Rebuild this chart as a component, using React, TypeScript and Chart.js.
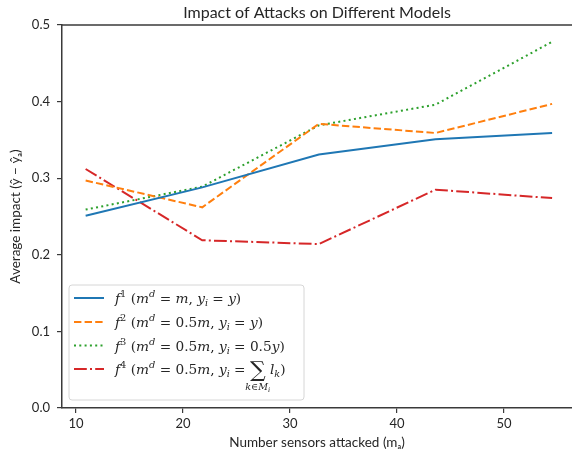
import React, { useEffect, useRef } from "react";
import { Chart, registerables } from "chart.js";

Chart.register(...registerables);

// ---- data ----
const xValues = [10.9, 21.8, 32.7, 43.6, 54.5];
const f1Values = [0.251, 0.288, 0.331, 0.351, 0.359];
const f2Values = [0.297, 0.262, 0.371, 0.359, 0.397];
const f3Values = [0.259, 0.289, 0.369, 0.396, 0.478];
const f4Values = [0.312, 0.219, 0.214, 0.285, 0.274];
const xTickValues = [10, 20, 30, 40, 50];
const yTickValues = [0, 0.1, 0.2, 0.3, 0.4, 0.5];
const seriesNames = ["f1", "f2", "f3", "f4"];

const titleText = "Impact of Attacks on Different Models";
const xTitle = "Number sensors attacked (mₐ)";
const yTitle = "Average impact (ŷ − ŷₐ)";

const COLORS = ["#1f77b4", "#ff7f0e", "#2ca02c", "#d62728"];
const DASHES: number[][] = [[], [7.4, 3.2], [2, 3.3], [12.8, 3.2, 2, 3.2]];
const SANS = '"Lato", "DejaVu Sans", sans-serif';
const SERIF = '"DejaVu Serif", "Liberation Serif", serif';
const TEXT = "#262626";
const SPINE = "#3a3a3a";

type Seg = { t: string; it?: boolean; pos?: "sup" | "sub"; size?: number; dy?: number; under?: Seg[] };

function drawRich(ctx: CanvasRenderingContext2D, x: number, y: number, segs: Seg[], base: number) {
  let cx = x;
  for (const s of segs) {
    let size = s.size ?? base;
    let dy = s.dy ?? 0;
    if (s.pos === "sup") { size = base * 0.72; dy -= base * 0.42; }
    if (s.pos === "sub") { size = base * 0.7; dy += base * 0.22; }
    ctx.font = `${s.it ? "italic " : ""}${size}px ${SERIF}`;
    const w = ctx.measureText(s.t).width;
    ctx.fillText(s.t, cx, y + dy);
    if (s.under) {
      let uw = 0;
      for (const u of s.under) {
        const us = u.pos === "sub" ? base * 0.5 : base * 0.7;
        ctx.font = `${u.it ? "italic " : ""}${us}px ${SERIF}`;
        uw += ctx.measureText(u.t).width;
      }
      let ux = cx + w / 2 - uw / 2;
      for (const u of s.under) {
        const us = u.pos === "sub" ? base * 0.5 : base * 0.7;
        const udy = u.pos === "sub" ? 2 : 0;
        ctx.font = `${u.it ? "italic " : ""}${us}px ${SERIF}`;
        ctx.fillText(u.t, ux, y + base * 1.2 + udy);
        ux += ctx.measureText(u.t).width;
      }
    }
    cx += w;
  }
}

const legendRows: Seg[][] = [
  [{ t: "f", it: true }, { t: "1", pos: "sup" }, { t: " (" }, { t: "m", it: true }, { t: "d", it: true, pos: "sup" }, { t: " = " }, { t: "m", it: true }, { t: ", " }, { t: "y", it: true }, { t: "i", it: true, pos: "sub" }, { t: " = " }, { t: "y", it: true }, { t: ")" }],
  [{ t: "f", it: true }, { t: "2", pos: "sup" }, { t: " (" }, { t: "m", it: true }, { t: "d", it: true, pos: "sup" }, { t: " = 0.5" }, { t: "m", it: true }, { t: ", " }, { t: "y", it: true }, { t: "i", it: true, pos: "sub" }, { t: " = " }, { t: "y", it: true }, { t: ")" }],
  [{ t: "f", it: true }, { t: "3", pos: "sup" }, { t: " (" }, { t: "m", it: true }, { t: "d", it: true, pos: "sup" }, { t: " = 0.5" }, { t: "m", it: true }, { t: ", " }, { t: "y", it: true }, { t: "i", it: true, pos: "sub" }, { t: " = 0.5" }, { t: "y", it: true }, { t: ")" }],
  [{ t: "f", it: true }, { t: "4", pos: "sup" }, { t: " (" }, { t: "m", it: true }, { t: "d", it: true, pos: "sup" }, { t: " = 0.5" }, { t: "m", it: true }, { t: ", " }, { t: "y", it: true }, { t: "i", it: true, pos: "sub" }, { t: " = " },
   { t: "∑", size: 22, dy: 3, under: [{ t: "k", it: true }, { t: "∈" }, { t: "M", it: true }, { t: "i", it: true, pos: "sub" }] },
   { t: " " }, { t: "l", it: true }, { t: "k", it: true, pos: "sub" }, { t: ")" }],
];

const decoPlugin = {
  id: "deco",
  afterDraw(chart: any) {
    const ctx: CanvasRenderingContext2D = chart.ctx;
    const a = chart.chartArea;
    ctx.save();
    ctx.strokeStyle = SPINE;
    ctx.lineWidth = 1.5;
    ctx.beginPath();
    ctx.moveTo(a.left, a.top);
    ctx.lineTo(a.right + 2, a.top);
    ctx.stroke();

    const bx = 69, by = 285, bw = 235, bh = 115, r = 3;
    ctx.beginPath();
    ctx.moveTo(bx + r, by);
    ctx.arcTo(bx + bw, by, bx + bw, by + bh, r);
    ctx.arcTo(bx + bw, by + bh, bx, by + bh, r);
    ctx.arcTo(bx, by + bh, bx, by, r);
    ctx.arcTo(bx, by, bx + bw, by, r);
    ctx.closePath();
    ctx.fillStyle = "rgba(255,255,255,0.8)";
    ctx.fill();
    ctx.strokeStyle = "#d6d6d6";
    ctx.lineWidth = 1;
    ctx.stroke();

    const rowY = [298, 322, 345.5, 369];
    ctx.textBaseline = "alphabetic";
    ctx.textAlign = "left";
    seriesNames.forEach((_, i) => {
      ctx.strokeStyle = COLORS[i];
      ctx.lineWidth = 2;
      ctx.setLineDash(DASHES[i]);
      ctx.beginPath();
      ctx.moveTo(74, rowY[i]);
      ctx.lineTo(104, rowY[i]);
      ctx.stroke();
      ctx.setLineDash([]);
      ctx.fillStyle = TEXT;
      drawRich(ctx, 115, rowY[i] + 5, legendRows[i], 13.7);
    });
    ctx.restore();
  },
};

export default function App() {
  const ref = useRef<HTMLCanvasElement | null>(null);
  useEffect(() => {
    if (!ref.current) return;
    const mk = (vals: number[]) => xValues.map((x, i) => ({ x, y: vals[i] }));
    const allVals = [f1Values, f2Values, f3Values, f4Values];
    const chart = new Chart(ref.current, {
      type: "line",
      data: {
        datasets: allVals.map((vals, i) => ({
          label: seriesNames[i],
          data: mk(vals),
          borderColor: COLORS[i],
          backgroundColor: COLORS[i],
          borderWidth: 2,
          borderDash: DASHES[i],
          pointRadius: 0,
          tension: 0,
          fill: false,
        })),
      },
      options: {
        responsive: false,
        animation: false,
        layout: { padding: { top: 0, left: 0, right: 0, bottom: 0 } },
        plugins: {
          legend: { display: false },
          tooltip: { enabled: false },
          title: {
            display: true,
            text: titleText,
            fullSize: false,
            color: TEXT,
            font: { family: SANS, size: 16, weight: "normal" },
            padding: { top: 2.8, bottom: 3 },
          },
        },
        scales: {
          x: {
            type: "linear",
            min: 8.69,
            max: 56.36,
            afterBuildTicks: (s: any) => { s.ticks = xTickValues.map((v) => ({ value: v })); },
            afterFit: (s: any) => { s.height = 47; },
            grid: { display: true, drawOnChartArea: false, drawTicks: true, tickLength: 5, color: SPINE, lineWidth: 1.2 },
            border: { display: true, color: SPINE, width: 1.5 },
            ticks: { color: TEXT, padding: 3, font: { family: SANS, size: 13 }, callback: (v: any) => String(v), maxRotation: 0 },
            title: { display: true, text: xTitle, color: TEXT, font: { family: SANS, size: 13.5 }, padding: { top: 0, bottom: 4 } },
          },
          y: {
            type: "linear",
            min: 0,
            max: 0.5,
            afterBuildTicks: (s: any) => { s.ticks = yTickValues.map((v) => ({ value: v })); },
            afterFit: (s: any) => { s.width = 62; },
            grid: { display: true, drawOnChartArea: false, drawTicks: true, tickLength: 5, color: SPINE, lineWidth: 1.2 },
            border: { display: true, color: SPINE, width: 1.5 },
            ticks: { color: TEXT, padding: 7, font: { family: SANS, size: 13 }, callback: (v: any) => Number(v).toFixed(1) },
            title: { display: true, text: yTitle, color: TEXT, font: { family: SANS, size: 13.5 }, padding: { top: 8, bottom: 0 } },
          },
        },
      },
      plugins: [decoPlugin],
    } as any);
    return () => chart.destroy();
  }, []);
  return (
    <div style={{ position: "absolute", left: 0, top: 0, width: 572, height: 455, background: "#fff" }}>
      <canvas ref={ref} width={572} height={455} style={{ display: "block" }} />
    </div>
  );
}
